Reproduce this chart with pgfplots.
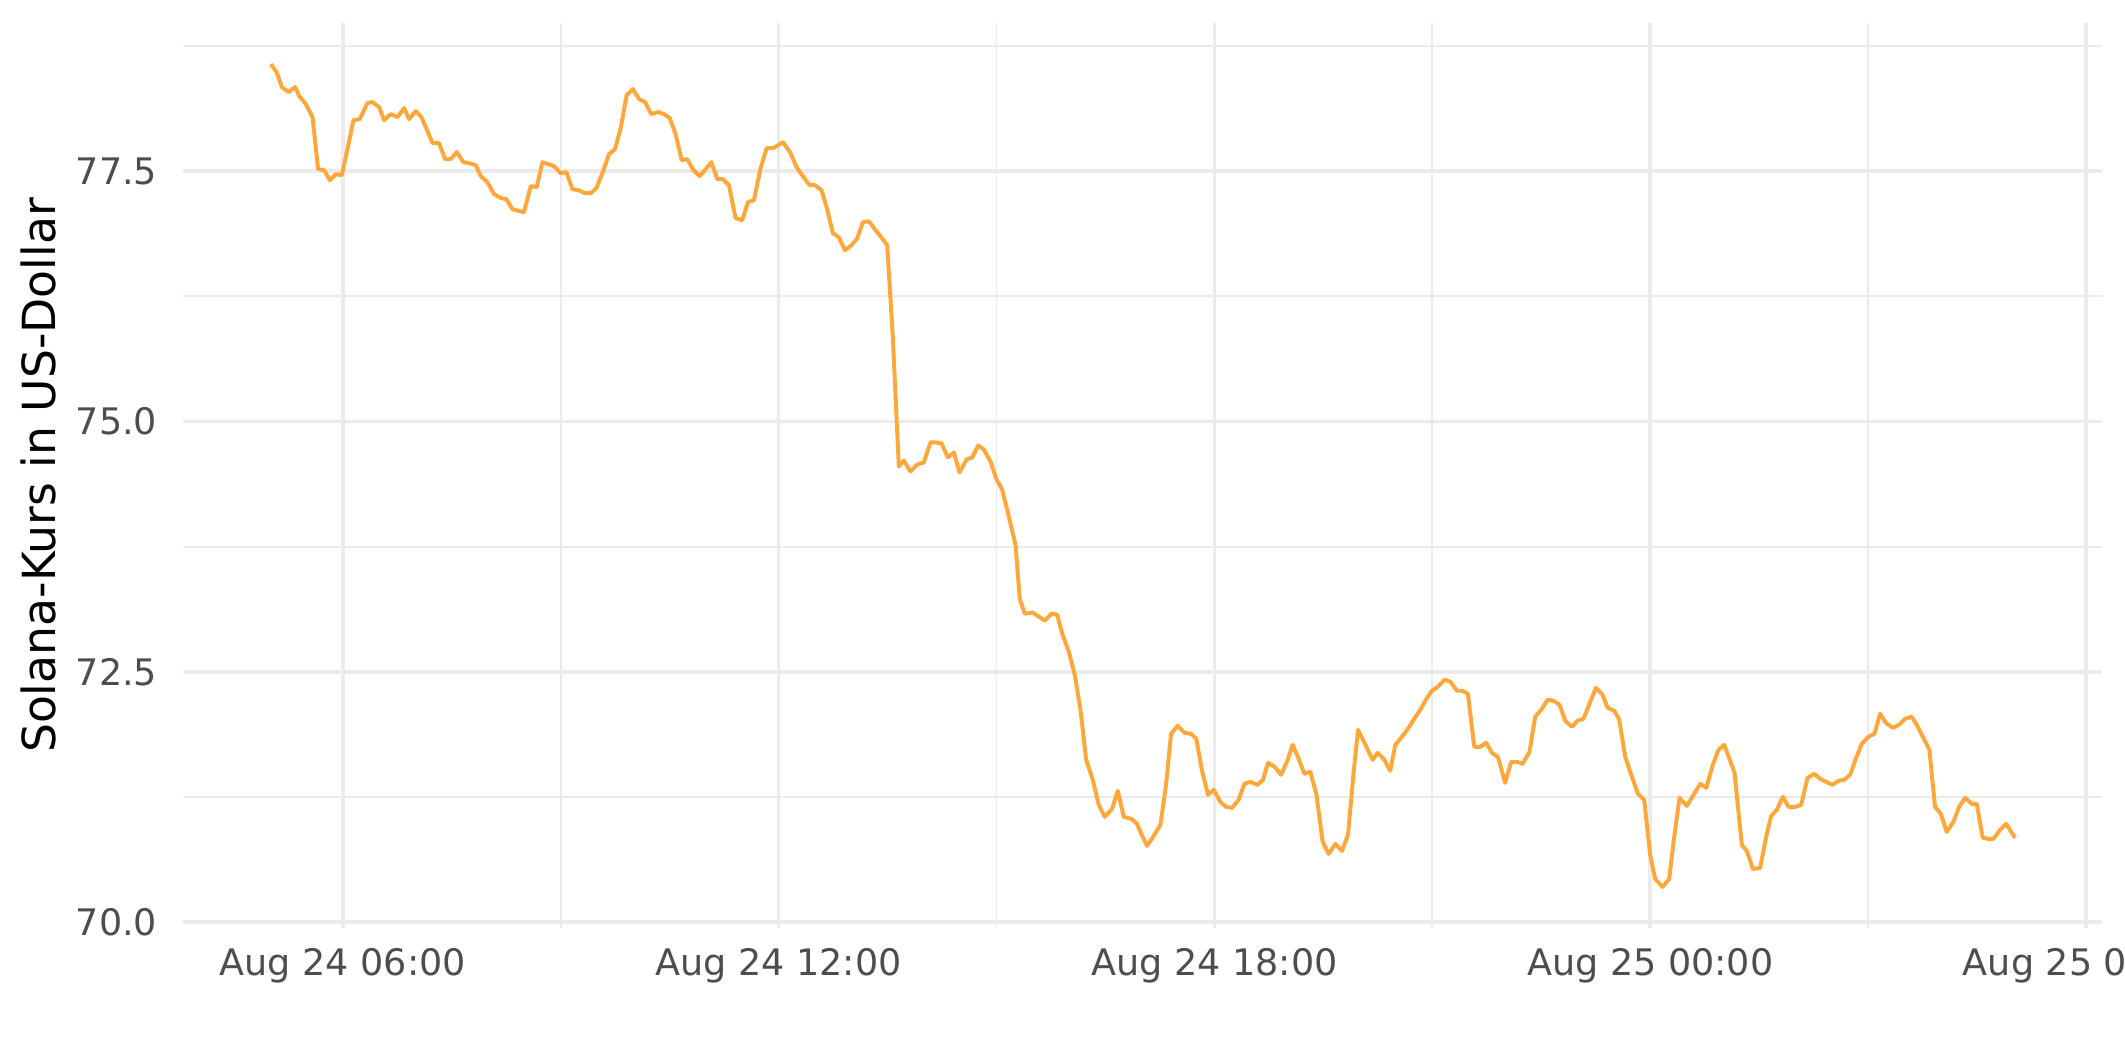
\documentclass[border=0pt]{standalone}
\usepackage{fontspec}
\setmainfont{DejaVu Sans}
\usepackage{pgfplots}
\pgfplotsset{compat=1.18}
\definecolor{gridc}{HTML}{EBEBEB}
\definecolor{tickc}{HTML}{4D4D4D}
\definecolor{linec}{HTML}{FFA73A}
\begin{document}
\begin{tikzpicture}
\begin{axis}[
  at={(0,0)}, anchor=south west,
  scale only axis, width=460.56bp, height=217.2bp,
  xmin=3.8, xmax=30.22, ymin=69.94, ymax=78.98,
  axis line style={draw=none},
  tick style={draw=none},
  xtick={6,12,18,24,30},
  xticklabels={Aug 24 06:00,Aug 24 12:00,Aug 24 18:00,Aug 25 00:00,Aug 25 06:00},
  minor xtick={9,15,21,27},
  ytick={70,72.5,75,77.5},
  minor ytick={71.25,73.75,76.25,78.75},
  grid=both,
  major grid style={line width=0.9bp, gridc},
  minor grid style={line width=0.45bp, gridc},
  /pgf/number format/assume math mode=true,
  yticklabel style={/pgf/number format/fixed, /pgf/number format/fixed zerofill, /pgf/number format/precision=1,
     anchor=east, inner sep=0pt, xshift=-6bp, font=\fontsize{8.8}{10}\selectfont, text=tickc},
  xticklabel style={anchor=north, inner sep=0pt, yshift=-4.8bp, font=\fontsize{8.8}{10}\selectfont, text=tickc},
  ylabel={Solana-Kurs in US-Dollar},
  ylabel style={at={(axis description cs:-0.06566,0.5)}, anchor=south, inner sep=0pt, font=\fontsize{11}{13}\selectfont, text=black},
]
\addplot[linec, line width=0.95bp, no marks, line join=round] table {
5.009 78.57
5.088 78.49
5.161 78.34
5.253 78.29
5.344 78.34
5.399 78.25
5.491 78.17
5.583 78.04
5.660 77.52
5.743 77.51
5.821 77.41
5.904 77.47
5.986 77.46
6.064 77.72
6.147 78.01
6.234 78.02
6.340 78.18
6.408 78.19
6.500 78.14
6.568 78.01
6.661 78.07
6.752 78.04
6.844 78.13
6.912 78.02
7.005 78.10
7.083 78.04
7.165 77.90
7.234 77.78
7.325 77.78
7.408 77.62
7.486 77.62
7.569 77.69
7.660 77.59
7.738 77.58
7.830 77.56
7.899 77.45
7.991 77.39
8.082 77.27
8.184 77.23
8.253 77.22
8.335 77.12
8.495 77.09
8.587 77.35
8.670 77.34
8.748 77.59
8.908 77.55
9.000 77.48
9.078 77.49
9.161 77.32
9.243 77.31
9.335 77.28
9.413 77.28
9.491 77.33
9.574 77.48
9.665 77.67
9.748 77.72
9.826 77.93
9.908 78.26
9.995 78.32
10.078 78.22
10.161 78.19
10.248 78.07
10.344 78.09
10.422 78.07
10.500 78.03
10.582 77.87
10.665 77.61
10.743 77.62
10.826 77.51
10.913 77.45
10.986 77.51
11.073 77.59
11.156 77.42
11.233 77.42
11.316 77.36
11.408 77.03
11.500 77.01
11.578 77.19
11.660 77.21
11.752 77.53
11.835 77.73
11.927 77.73
12.059 77.79
12.165 77.68
12.247 77.54
12.334 77.45
12.426 77.36
12.499 77.36
12.591 77.31
12.669 77.12
12.747 76.88
12.829 76.84
12.913 76.71
13.004 76.76
13.083 76.83
13.160 76.99
13.243 77.00
13.325 76.92
13.413 76.84
13.495 76.76
13.572 75.85
13.655 74.55
13.724 74.61
13.816 74.50
13.908 74.57
13.999 74.59
14.091 74.79
14.160 74.79
14.243 74.78
14.330 74.64
14.413 74.69
14.491 74.49
14.587 74.62
14.665 74.64
14.748 74.76
14.825 74.72
14.917 74.60
15.000 74.42
15.078 74.32
15.169 74.05
15.261 73.77
15.320 73.23
15.389 73.08
15.499 73.09
15.582 73.05
15.665 73.01
15.757 73.08
15.835 73.07
15.904 72.88
15.995 72.70
16.077 72.47
16.156 72.12
16.234 71.62
16.325 71.42
16.408 71.17
16.491 71.05
16.591 71.13
16.669 71.31
16.752 71.05
16.857 71.03
16.935 70.98
17.004 70.86
17.073 70.76
17.164 70.86
17.256 70.97
17.334 71.37
17.403 71.88
17.494 71.96
17.586 71.89
17.678 71.88
17.751 71.83
17.829 71.51
17.912 71.27
17.990 71.32
18.081 71.20
18.160 71.15
18.242 71.14
18.333 71.22
18.412 71.38
18.494 71.40
18.595 71.37
18.669 71.42
18.738 71.59
18.829 71.55
18.917 71.47
18.999 71.60
19.077 71.77
19.160 71.63
19.238 71.48
19.320 71.50
19.403 71.28
19.490 70.80
19.573 70.68
19.665 70.78
19.756 70.71
19.839 70.87
19.917 71.50
19.977 71.92
20.078 71.77
20.178 71.62
20.247 71.69
20.339 71.62
20.421 71.51
20.490 71.77
20.582 71.85
20.665 71.93
20.742 72.02
20.834 72.12
20.912 72.22
20.995 72.31
21.077 72.35
21.168 72.42
21.247 72.40
21.338 72.31
21.407 72.31
21.490 72.28
21.577 71.75
21.659 71.75
21.742 71.79
21.820 71.69
21.902 71.65
22.003 71.39
22.085 71.60
22.164 71.60
22.241 71.58
22.338 71.70
22.416 72.05
22.499 72.12
22.586 72.22
22.669 72.21
22.751 72.17
22.830 72.01
22.921 71.95
22.999 72.01
23.082 72.03
23.174 72.20
23.252 72.34
23.343 72.27
23.412 72.14
23.505 72.11
23.573 72.02
23.656 71.65
23.739 71.47
23.830 71.28
23.917 71.22
23.999 70.67
24.068 70.43
24.169 70.35
24.261 70.43
24.321 70.80
24.403 71.24
24.505 71.16
24.596 71.27
24.688 71.38
24.771 71.34
24.862 71.57
24.940 71.72
25.018 71.77
25.091 71.63
25.160 71.49
25.261 70.77
25.330 70.71
25.413 70.53
25.513 70.54
25.596 70.85
25.665 71.06
25.743 71.12
25.826 71.25
25.904 71.15
25.996 71.15
26.078 71.17
26.165 71.44
26.257 71.48
26.340 71.43
26.422 71.40
26.509 71.37
26.591 71.41
26.670 71.42
26.752 71.47
26.830 71.63
26.913 71.78
27.004 71.85
27.087 71.88
27.165 72.08
27.243 71.99
27.339 71.94
27.426 71.97
27.508 72.03
27.600 72.05
27.669 71.97
27.760 71.84
27.843 71.72
27.921 71.15
28.000 71.08
28.082 70.90
28.174 71.00
28.252 71.15
28.334 71.24
28.426 71.18
28.495 71.18
28.578 70.84
28.651 70.83
28.725 70.83
28.816 70.92
28.899 70.98
29.023 70.84
};
\end{axis}
\pgfresetboundingbox
\useasboundingbox (-43.92bp,-32.16bp) rectangle (466.08bp,222.72bp);
\end{tikzpicture}
\end{document}
